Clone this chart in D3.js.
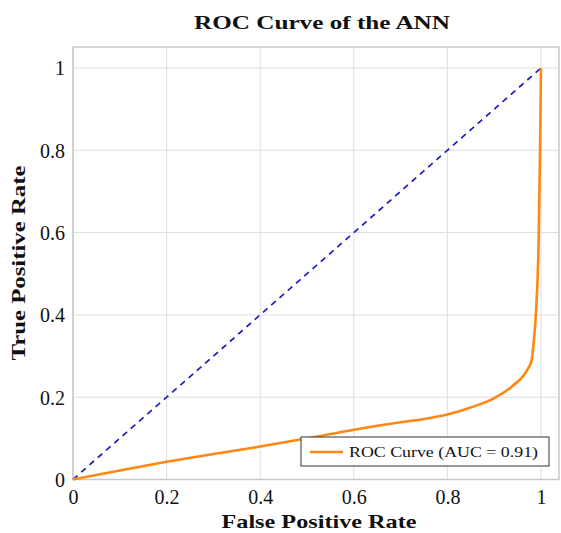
<!DOCTYPE html>
<html>
<head>
<meta charset="utf-8">
<script src="https://cdn.jsdelivr.net/npm/d3@7"></script>
<style>
  body { margin: 0; background: #fff; }
  text { font-family: "Liberation Serif", "Times New Roman", serif; fill: #111; }
</style>
</head>
<body>
<div id="chart"></div>
<script>
const svgWidth = 561;
const svgHeight = 533;

// ROC curve
const fpr = [0, 0.1, 0.2, 0.3, 0.4, 0.5, 0.6, 0.7, 0.75, 0.8, 0.85, 0.9, 0.94, 0.97, 0.98, 0.985, 0.99, 0.995, 0.998, 1];
const tpr = [0, 0.022, 0.043, 0.062, 0.08, 0.1, 0.121, 0.139, 0.147, 0.158, 0.175, 0.198, 0.228, 0.265, 0.29, 0.34, 0.42, 0.58, 0.8, 1];
const chanceX = [0, 1];
const chanceY = [0, 1];
const xTicks = [0, 0.2, 0.4, 0.6, 0.8, 1];
const yTicks = [0, 0.2, 0.4, 0.6, 0.8, 1];
const legendLabel = "ROC Curve (AUC = 0.91)";

const margin = { left: 73, top: 47, right: 2, bottom: 53.5 };
const plotW = svgWidth - margin.left - margin.right;
const plotH = svgHeight - margin.top - margin.bottom;

const svg = d3.select("#chart").append("svg")
  .attr("width", svgWidth)
  .attr("height", svgHeight);

const x = d3.scaleLinear().domain([0, 1.0385]).range([margin.left, margin.left + plotW]);
const y = d3.scaleLinear().domain([0, 1.051]).range([margin.top + plotH, margin.top]);

// Grid
const grid = svg.append("g");
xTicks.forEach(t => {
  grid.append("line")
    .attr("x1", x(t)).attr("x2", x(t))
    .attr("y1", y.range()[0]).attr("y2", y.range()[1])
    .attr("stroke", "#dedede").attr("stroke-width", 1);
});
yTicks.forEach(t => {
  grid.append("line")
    .attr("x1", x.range()[0]).attr("x2", x.range()[1])
    .attr("y1", y(t)).attr("y2", y(t))
    .attr("stroke", "#dedede").attr("stroke-width", 1);
});

// Frame
svg.append("rect")
  .attr("x", x.range()[0]).attr("y", y.range()[1])
  .attr("width", plotW).attr("height", plotH)
  .attr("fill", "none").attr("stroke", "#c8c8c8").attr("stroke-width", 1.5);

// Tick labels
const xAxis = svg.append("g")
  .attr("transform", `translate(0,${y(0)})`)
  .call(d3.axisBottom(x).tickValues(xTicks).tickSize(0).tickPadding(10).tickFormat(d3.format("")));
const yAxis = svg.append("g")
  .attr("transform", `translate(${x(0)},0)`)
  .call(d3.axisLeft(y).tickValues(yTicks).tickSize(0).tickPadding(8).tickFormat(d3.format("")));
[xAxis, yAxis].forEach(a => {
  a.select(".domain").remove();
  a.selectAll("text")
    .style("font-family", '"Liberation Serif", serif')
    .style("font-size", "20px")
    .attr("fill", "#111");
});
yAxis.selectAll("text").attr("dy", "0.34em");
xAxis.selectAll("text").attr("dy", "0.72em");

// Chance line
const line = d3.line().x(d => x(d[0])).y(d => y(d[1]));
svg.append("path")
  .datum(d3.zip(chanceX, chanceY))
  .attr("d", line)
  .attr("fill", "none")
  .attr("stroke", "#1c1cc0")
  .attr("stroke-width", 1.7)
  .attr("stroke-dasharray", "6,5");

// ROC curve
svg.append("path")
  .datum(d3.zip(fpr, tpr))
  .attr("d", line.curve(d3.curveMonotoneX))
  .attr("fill", "none")
  .attr("stroke", "#ff8811")
  .attr("stroke-width", 2.6)
  .attr("stroke-linejoin", "round");

// Legend
const legend = svg.append("g").attr("transform", "translate(301,437)");
legend.append("rect")
  .attr("width", 248).attr("height", 29)
  .attr("fill", "#fff").attr("stroke", "#333").attr("stroke-width", 1);
legend.append("line")
  .attr("x1", 9).attr("x2", 42).attr("y1", 15).attr("y2", 15)
  .attr("stroke", "#ff8811").attr("stroke-width", 2.6);
legend.append("text")
  .attr("x", 48).attr("y", 20)
  .style("font-size", "15px")
  .attr("textLength", 189)
  .attr("lengthAdjust", "spacingAndGlyphs")
  .text(legendLabel);

// Title and axis labels
svg.append("text")
  .attr("x", 322).attr("y", 29)
  .attr("text-anchor", "middle")
  .style("font-size", "19px").style("font-weight", "bold")
  .attr("textLength", 256).attr("lengthAdjust", "spacingAndGlyphs")
  .text("ROC Curve of the ANN");

svg.append("text")
  .attr("x", 319).attr("y", 528)
  .attr("text-anchor", "middle")
  .style("font-size", "19px").style("font-weight", "bold")
  .attr("textLength", 195).attr("lengthAdjust", "spacingAndGlyphs")
  .text("False Positive Rate");

svg.append("text")
  .attr("transform", "translate(25,263) rotate(-90)")
  .attr("text-anchor", "middle")
  .style("font-size", "19px").style("font-weight", "bold")
  .attr("textLength", 195).attr("lengthAdjust", "spacingAndGlyphs")
  .text("True Positive Rate");
</script>
</body>
</html>
